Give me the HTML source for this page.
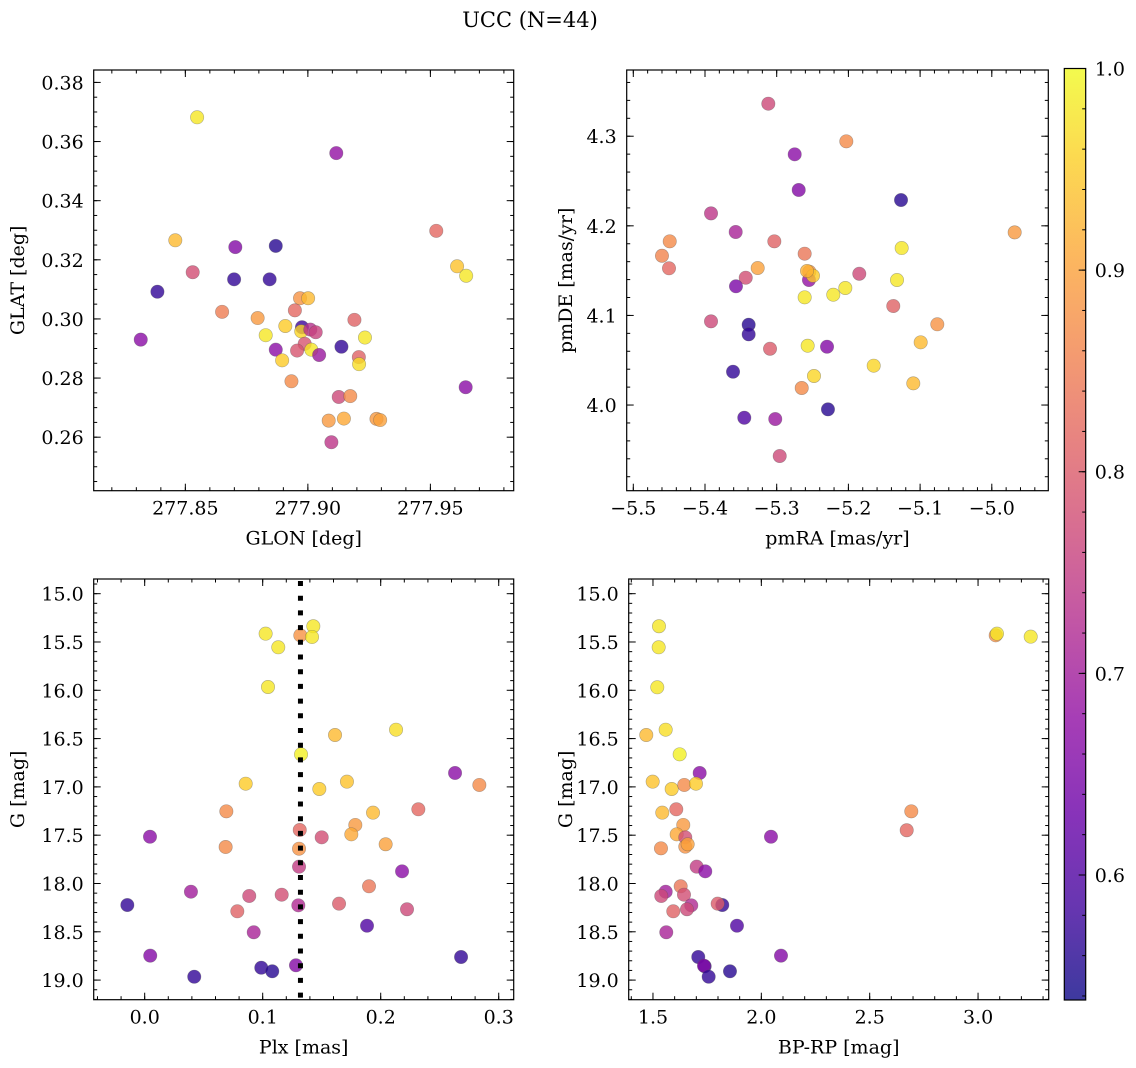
<!DOCTYPE html>
<html><head><meta charset="utf-8"><style>
html,body{margin:0;padding:0;background:#fff;}
svg{display:block;font-family:"DejaVu Serif","Liberation Serif",serif;}
</style></head><body>
<svg id="fig" width="1136" height="1068" viewBox="0 0 1136 1068" xmlns="http://www.w3.org/2000/svg">
<text x="530" y="27" font-size="21" text-anchor="middle">UCC (N=44)</text>
</svg>
<script>
// ---------- data ----------
const p1Glon=[277.8548,277.9116,277.8459,277.8704,277.8869,277.8530,277.8699,277.8844,277.8386,277.8318,277.8650,277.8795,277.8968,277.9001,277.8947,277.8908,277.8828,277.8976,277.8973,277.9010,277.9032,277.8987,277.8956,277.8869,277.9014,277.9046,277.8895,277.9190,277.9233,277.9137,277.9208,277.9209,277.8933,277.9126,277.9173,277.9085,277.9147,277.9280,277.9295,277.9096,277.9524,277.9609,277.9646,277.9644];
const p1Glat=[0.3682,0.3561,0.3266,0.3243,0.3247,0.3158,0.3134,0.3134,0.3092,0.2930,0.3024,0.3003,0.3070,0.3070,0.3029,0.2976,0.2945,0.2972,0.2958,0.2964,0.2955,0.2916,0.2893,0.2896,0.2896,0.2878,0.2860,0.2997,0.2937,0.2906,0.2871,0.2847,0.2789,0.2736,0.2739,0.2656,0.2663,0.2662,0.2658,0.2583,0.3298,0.3178,0.3146,0.2769];
const p1C=[0.98,0.68,0.93,0.66,0.56,0.78,0.57,0.57,0.57,0.67,0.85,0.89,0.88,0.93,0.82,0.95,0.98,0.58,0.96,0.73,0.76,0.79,0.79,0.67,0.98,0.69,0.95,0.81,0.98,0.57,0.81,0.97,0.87,0.77,0.87,0.89,0.91,0.89,0.90,0.74,0.82,0.94,0.98,0.67];

const p2PmRA=[-5.3117,-5.2749,-5.2693,-5.1266,-5.2029,-5.3916,-5.3572,-5.3033,-5.4492,-5.4600,-5.4502,-5.3265,-5.3432,-5.3568,-5.2610,-5.2545,-5.2550,-5.2494,-5.1848,-5.1257,-5.1322,-5.2610,-5.2211,-5.2043,-5.1374,-4.9681,-5.3916,-5.3391,-5.3391,-5.3093,-5.2568,-5.2298,-5.0760,-5.0992,-5.3609,-5.2480,-5.1647,-5.2651,-5.1095,-5.3452,-5.3020,-5.2285,-5.2958,-5.2577];
const p2PmDE=[4.3363,4.2798,4.2400,4.2288,4.2943,4.2139,4.1931,4.1827,4.1827,4.1666,4.1526,4.1529,4.1421,4.1325,4.1689,4.1488,4.1395,4.1443,4.1465,4.1752,4.1395,4.1202,4.1231,4.1306,4.1105,4.1927,4.0934,4.0896,4.0789,4.0628,4.0662,4.0651,4.0901,4.0700,4.0372,4.0324,4.0439,4.0190,4.0242,3.9858,3.9844,3.9952,3.9431,4.1496];
const p2C=[0.77,0.67,0.66,0.56,0.87,0.74,0.71,0.81,0.87,0.86,0.82,0.90,0.78,0.65,0.84,0.88,0.68,0.95,0.77,0.98,0.98,0.98,0.98,0.98,0.81,0.89,0.77,0.56,0.57,0.80,0.98,0.66,0.88,0.93,0.57,0.96,0.96,0.87,0.93,0.60,0.69,0.56,0.77,0.92];

const p3Plx=[0.1025,0.1132,0.1319,0.1429,0.1418,0.1045,0.1613,0.2130,0.1325,0.0856,0.1480,0.1714,0.2630,0.2836,0.0692,0.1935,0.2319,0.1785,0.1751,0.1314,0.1500,0.0045,0.0686,0.1308,0.2042,0.1308,0.2181,0.1901,0.0392,0.0886,0.1161,-0.0147,0.1302,0.1647,0.0785,0.2223,0.1884,0.0924,0.0047,0.2681,0.0988,0.1081,0.1282,0.0420];
const p3G=[15.414,15.555,15.431,15.337,15.448,15.966,16.463,16.408,16.663,16.967,17.022,16.946,16.856,16.980,17.253,17.267,17.232,17.394,17.491,17.446,17.522,17.516,17.622,17.640,17.594,17.826,17.874,18.029,18.085,18.129,18.116,18.223,18.226,18.209,18.288,18.267,18.437,18.505,18.747,18.761,18.872,18.909,18.847,18.965];
const p3C=[0.98,0.98,0.88,0.98,0.98,0.98,0.93,0.97,0.99,0.95,0.95,0.94,0.67,0.87,0.87,0.93,0.82,0.89,0.91,0.82,0.78,0.67,0.87,0.88,0.90,0.75,0.67,0.84,0.70,0.77,0.78,0.57,0.72,0.80,0.81,0.77,0.60,0.71,0.66,0.57,0.57,0.56,0.66,0.57];
const plxMean=[0.132];

const p4BpRp=[1.5277,1.5263,1.5198,1.5586,1.4691,1.6232,1.7155,1.4986,1.5863,1.6444,1.6984,1.5429,1.6075,1.6398,1.6094,1.6491,1.5369,1.6491,1.6601,1.7017,1.7413,1.6278,1.5586,1.5383,1.6431,1.8198,1.6767,1.7986,1.5937,1.6569,1.8876,1.5614,2.0907,1.7090,1.7386,1.7353,1.7570,1.8553,2.0445,2.6920,2.6708,3.0815,3.0874,3.2430];
const p4G=[15.337,15.555,15.969,16.408,16.463,16.663,16.856,16.946,17.022,16.980,16.967,17.267,17.232,17.394,17.491,17.522,17.636,17.619,17.594,17.826,17.874,18.029,18.085,18.129,18.116,18.223,18.226,18.209,18.288,18.267,18.437,18.505,18.747,18.761,18.857,18.851,18.965,18.909,17.516,17.253,17.449,15.431,15.414,15.445];
const p4C=[0.98,0.98,0.98,0.97,0.93,0.99,0.67,0.94,0.95,0.87,0.95,0.93,0.82,0.89,0.91,0.78,0.87,0.88,0.90,0.75,0.67,0.84,0.70,0.77,0.78,0.57,0.72,0.80,0.81,0.77,0.60,0.71,0.66,0.57,0.57,0.66,0.57,0.56,0.67,0.87,0.82,0.88,0.98,0.98];

const p1XTicks=[277.85,277.90,277.95];
const p1YTicks=[0.26,0.28,0.30,0.32,0.34,0.36,0.38];
const p2XTicks=[-5.5,-5.4,-5.3,-5.2,-5.1,-5.0];
const p2YTicks=[4.0,4.1,4.2,4.3];
const p3XTicks=[0.0,0.1,0.2,0.3];
const gTicks=[15.0,15.5,16.0,16.5,17.0,17.5,18.0,18.5,19.0];
const p4XTicks=[1.5,2.0,2.5,3.0];
const cbTicks=[0.6,0.7,0.8,0.9,1.0];
const cRange=[0.538,1.0];

// ---------- helpers ----------
const NS='http://www.w3.org/2000/svg';
const svg=document.getElementById('fig');
const TF=19, LF=19;
function mk(tag,attrs,parent){const e=document.createElementNS(NS,tag);for(const k in attrs)e.setAttribute(k,attrs[k]);(parent||svg).appendChild(e);return e;}
const plasmaStops=[[13,8,135],[65,4,157],[106,0,168],[143,13,164],[177,42,144],[204,71,120],[225,100,98],[242,132,75],[252,166,54],[252,206,37],[240,249,33]];
function plasma(t){t=Math.max(0,Math.min(1,t));const s=t*10,i=Math.min(9,Math.floor(s)),f=s-i;const a=plasmaStops[i],b=plasmaStops[i+1];return 'rgb('+[0,1,2].map(k=>Math.round(a[k]+(b[k]-a[k])*f)).join(',')+')';}
function cnorm(c){return (c-cRange[0])/(cRange[1]-cRange[0]);}
function fmt(v,d){const s=Math.abs(v).toFixed(d);return (v<-1e-9?'\u2212':'')+s;}

function panel(o){
  const g=mk('g',{});
  
  
  const X=v=>o.x0+(v-o.xmin)/(o.xmax-o.xmin)*(o.x1-o.x0);
  const Y=v=>o.inv? o.y0+(v-o.ymin)/(o.ymax-o.ymin)*(o.y1-o.y0) : o.y1-(v-o.ymin)/(o.ymax-o.ymin)*(o.y1-o.y0);
  for(let i=0;i<o.xs.length;i++){
    const c=mk('circle',{cx:X(o.xs[i]),cy:Y(o.ys[i]),r:6.7,fill:plasma(cnorm(o.cs[i])),'fill-opacity':0.8,stroke:'#555','stroke-opacity':0.45,'stroke-width':0.6},g);
    
    
  }
  if(o.vline!==undefined){
    const l=mk('line',{x1:X(o.vline),x2:X(o.vline),y1:o.y0+2,y2:o.y1,stroke:'#000','stroke-width':5,'stroke-dasharray':'5 9.7'},g);
    
    
  }
  const fr=mk('rect',{x:o.x0,y:o.y0,width:o.x1-o.x0,height:o.y1-o.y0,fill:'none',stroke:'#000','stroke-width':1.2},g);
  
  
  const tk=mk('g',{stroke:'#000','stroke-width':1},g);
  
  
  function xt(v,L){const x=X(v);if(x<o.x0-0.5||x>o.x1+0.5)return;mk('line',{x1:x,x2:x,y1:o.y1,y2:o.y1-L},tk);mk('line',{x1:x,x2:x,y1:o.y0,y2:o.y0+L},tk);}
  function yt(v,L){const y=Y(v);if(y<o.y0-0.5||y>o.y1+0.5)return;mk('line',{x1:o.x0,x2:o.x0+L,y1:y,y2:y},tk);mk('line',{x1:o.x1,x2:o.x1-L,y1:y,y2:y},tk);}
  const lo=Math.min(o.xmin,o.xmax),hi=Math.max(o.xmin,o.xmax);
  for(let k=Math.ceil(lo/o.xminor-1e-6);k*o.xminor<=hi+1e-9;k++)xt(k*o.xminor,3.5);
  const ylo=Math.min(o.ymin,o.ymax),yhi=Math.max(o.ymin,o.ymax);
  for(let k=Math.ceil(ylo/o.yminor-1e-6);k*o.yminor<=yhi+1e-9;k++)yt(k*o.yminor,3.5);
  o.xticks.forEach(v=>{xt(v,7);const t=mk('text',{x:X(v),y:o.y1+24,'font-size':TF,'text-anchor':'middle'},g);t.textContent=fmt(v,o.xd);});
  o.yticks.forEach(v=>{yt(v,7);const t=mk('text',{x:o.x0-10,y:Y(v)+7,'font-size':TF,'text-anchor':'end'},g);t.textContent=fmt(v,o.yd);});
  const xl=mk('text',{x:(o.x0+o.x1)/2,y:o.y1+54,'font-size':LF,'text-anchor':'middle'},g);
  xl.textContent=o.xlabel;
  
  
  const yl=mk('text',{x:0,y:0,'font-size':LF,'text-anchor':'middle',transform:'translate('+o.ylx+','+(o.y0+o.y1)/2+') rotate(-90)'},g);
  yl.textContent=o.ylabel;
  
  
}

panel({name:'glon-glat-panel',x0:93.7,x1:513.7,y0:70,y1:490.7,xmin:277.8126,xmax:277.9840,ymin:0.2419,ymax:0.3842,xs:p1Glon,ys:p1Glat,cs:p1C,xticks:p1XTicks,yticks:p1YTicks,xminor:0.01,yminor:0.005,xd:2,yd:2,xlabel:'GLON [deg]',ylabel:'GLAT [deg]',ylx:24});
panel({name:'pm-panel',x0:626.7,x1:1048.3,y0:70,y1:490.7,xmin:-5.5092,xmax:-4.9212,ymin:3.9044,ymax:4.3739,xs:p2PmRA,ys:p2PmDE,cs:p2C,xticks:p2XTicks,yticks:p2YTicks,xminor:0.02,yminor:0.02,xd:1,yd:1,xlabel:'pmRA [mas/yr]',ylabel:'pmDE [mas/yr]',ylx:572});
panel({name:'plx-g-panel',x0:93.7,x1:513.7,y0:579,y1:999.7,xmin:-0.0432,xmax:0.3127,ymin:14.848,ymax:19.203,inv:true,xs:p3Plx,ys:p3G,cs:p3C,xticks:p3XTicks,yticks:gTicks,xminor:0.02,yminor:0.1,xd:1,yd:1,xlabel:'Plx [mas]',ylabel:'G [mag]',ylx:24,vline:plxMean[0]});
panel({name:'cmd-panel',x0:628.7,x1:1048.7,y0:579,y1:999.7,xmin:1.388,xmax:3.326,ymin:14.848,ymax:19.203,inv:true,xs:p4BpRp,ys:p4G,cs:p4C,xticks:p4XTicks,yticks:gTicks,xminor:0.1,yminor:0.1,xd:1,yd:1,xlabel:'BP-RP [mag]',ylabel:'G [mag]',ylx:572});

(function(){
  const x0=1064.3,x1=1085.7,y0=68.5,y1=1000;
  const cb=mk('g',{});
  
  
  const defs=mk('defs',{},cb);
  const lg=mk('linearGradient',{id:'cbg',x1:0,y1:1,x2:0,y2:0},defs);
  for(let i=0;i<=20;i++){mk('stop',{offset:i/20,'stop-color':plasma(i/20),'stop-opacity':0.8},lg);}
  mk('rect',{x:x0,y:y0,width:x1-x0,height:y1-y0,fill:'url(#cbg)',stroke:'#000','stroke-width':1.2},cb);
  const Y=v=>y1-(v-cRange[0])/(cRange[1]-cRange[0])*(y1-y0);
  for(let k=Math.ceil(cRange[0]/0.02-1e-6);k*0.02<=cRange[1]+1e-9;k++){const y=Y(k*0.02);mk('line',{x1:x1,x2:x1-3.5,y1:y,y2:y,stroke:'#000','stroke-width':1},cb);}
  cbTicks.forEach(v=>{const y=Y(v);mk('line',{x1:x1,x2:x1-7,y1:y,y2:y,stroke:'#000','stroke-width':1},cb);const t=mk('text',{x:x1+9,y:y+7,'font-size':TF},cb);t.textContent=v.toFixed(1);});
})();
</script>
</body></html>
